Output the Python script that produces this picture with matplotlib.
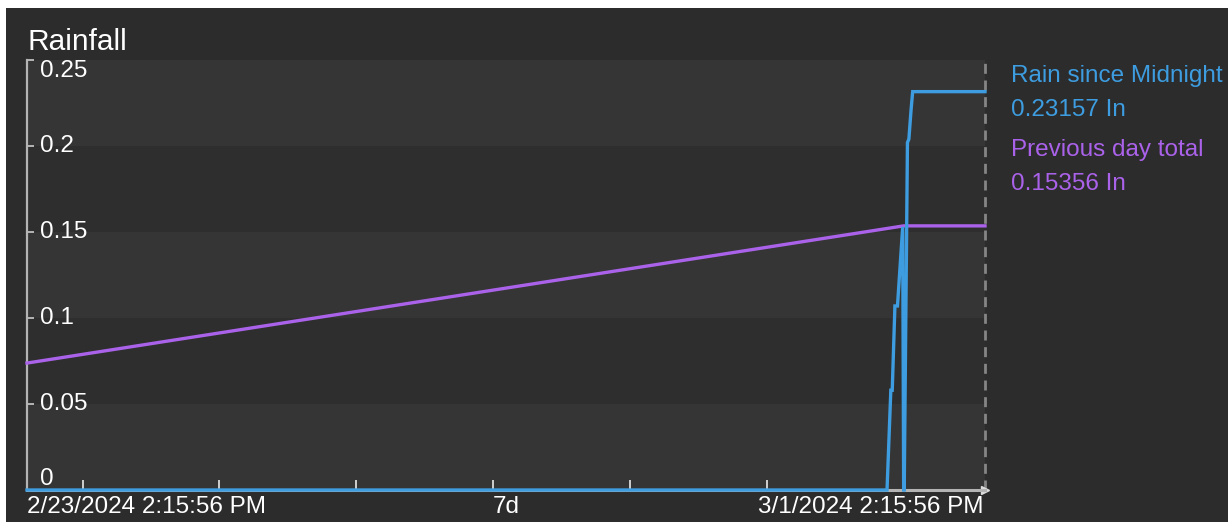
import matplotlib
matplotlib.use("Agg")
import matplotlib.pyplot as plt
from matplotlib.patches import Rectangle
import pandas as pd

# ---------------- data ----------------
X_START = "2024-02-23 14:15:56"
X_END = "2024-03-01 14:15:56"

RAIN_TIMES = [
    "2024-02-23 14:15:56", "2024-02-29 21:05:00", "2024-02-29 21:45:00", "2024-02-29 22:00:00",
    "2024-02-29 22:28:00", "2024-02-29 22:55:00", "2024-02-29 23:50:00", "2024-03-01 00:00:00",
    "2024-03-01 00:06:00", "2024-03-01 00:40:00", "2024-03-01 00:55:00", "2024-03-01 01:18:00",
    "2024-03-01 01:35:00", "2024-03-01 14:15:56",
]
RAIN_VALUES = [0, 0, 0.058, 0.058, 0.107, 0.107, 0.153, 0, 0, 0.202, 0.204,
               0.221, 0.2316, 0.2316]

PREV_TIMES = ["2024-02-23 14:15:56", "2024-03-01 00:00:00", "2024-03-01 14:15:56"]
PREV_VALUES = [0.0738, 0.15356, 0.15356]

YTICKS = [0, 0.05, 0.1, 0.15, 0.2, 0.25]
YTICK_LABELS = ["0", "0.05", "0.1", "0.15", "0.2", "0.25"]
XTICKS = ["2024-02-24", "2024-02-25", "2024-02-26", "2024-02-27",
          "2024-02-28", "2024-02-29", "2024-03-01"]
XLABELS = ["2/23/2024 2:15:56 PM", "7d", "3/1/2024 2:15:56 PM"]

LEGEND = [("Rain since Midnight", "0.23157 In"), ("Previous day total", "0.15356 In")]

BLUE = "#3d9de0"
PURPLE = "#ab62ea"
PANEL = "#2c2c2c"
BAND_LIGHT = "#353535"
BAND_DARK = "#2e2e2e"
AXIS = "#b4b4b4"
FS = 17.5

plt.rcParams['font.family'] = ['Liberation Sans', 'DejaVu Sans']

W, H = 1228, 522
fig = plt.figure(figsize=(W / 100, H / 100), dpi=100)
fig.patch.set_facecolor("white")
fig.patches.append(Rectangle((6 / W, 0), 1, 1 - 8 / H, transform=fig.transFigure,
                             facecolor=PANEL, edgecolor="none", zorder=-10))

ax = fig.add_axes([27 / W, (H - 490) / H, 958 / W, 430 / H])
ax.set_facecolor("none")

x0 = pd.Timestamp(X_START)
x1 = pd.Timestamp(X_END)
ax.set_xlim(x0, x1)
ax.set_ylim(0, 0.25)

# alternating bands
for i in range(len(YTICKS) - 1):
    c = BAND_LIGHT if (len(YTICKS) - 2 - i) % 2 == 0 else BAND_DARK
    ax.axhspan(YTICKS[i], YTICKS[i + 1], color=c, lw=0, zorder=0)

# lines
ax.plot(pd.to_datetime(PREV_TIMES), PREV_VALUES, color=PURPLE, lw=2.4,
        zorder=3, clip_on=False, solid_joinstyle="miter")
ax.plot(pd.to_datetime(RAIN_TIMES), RAIN_VALUES, color=BLUE, lw=2.4,
        zorder=4, clip_on=False, solid_joinstyle="miter")

# right dashed edge
ax.axvline(x1, color="#858585", lw=2.0, dashes=(3.6, 2.4), zorder=2, clip_on=False)

# spines
for s in ["top", "right"]:
    ax.spines[s].set_visible(False)
ax.spines["left"].set_color(AXIS)
ax.spines["left"].set_linewidth(1.6)
ax.spines["bottom"].set_color(AXIS)
ax.spines["bottom"].set_linewidth(2.2)
ax.spines["bottom"].set_zorder(2)
ax.plot([x1], [0], marker=">", ms=6, color="#dddddd", clip_on=False, zorder=2)

# ticks
ax.set_yticks(YTICKS)
ax.set_yticklabels([])
ax.tick_params(axis="y", direction="in", length=5, width=1.4, color=AXIS)
ax.set_xticks(pd.to_datetime(XTICKS))
ax.set_xticklabels([])
ax.tick_params(axis="x", direction="in", length=7, width=1.4, color="#d0d0d0")

# y tick labels inside the plot
ytrans = ax.get_yaxis_transform()
for v, lab in zip(YTICKS, YTICK_LABELS):
    va = "center"
    if v == YTICKS[-1]:
        va = "top"
    elif v == YTICKS[0]:
        va = "bottom"
    ax.text(0.0135, v, lab, transform=ytrans, ha="left", va=va,
            color="white", fontsize=FS)

# x labels
ax.text(0.0, -0.04, XLABELS[0], transform=ax.transAxes, ha="left", va="center",
        color="white", fontsize=FS)
ax.text(0.5, -0.04, XLABELS[1], transform=ax.transAxes, ha="center", va="center",
        color="white", fontsize=FS)
ax.text(0.998, -0.04, XLABELS[2], transform=ax.transAxes, ha="right", va="center",
        color="white", fontsize=FS)

# title
fig.text(27 / W, 1 - 42 / H, "Rainfall", ha="left", va="center",
         color="white", fontsize=21.5)

# legend text on the right
ys = [76, 110, 150, 184]
colors = [BLUE, PURPLE]
for k, (name, val) in enumerate(LEGEND):
    fig.text(1011 / W, 1 - ys[2 * k] / H, name, ha="left", va="center",
             color=colors[k], fontsize=FS)
    fig.text(1011 / W, 1 - ys[2 * k + 1] / H, val, ha="left", va="center",
             color=colors[k], fontsize=FS)

fig.savefig("out.png", dpi=100, facecolor=fig.get_facecolor())
